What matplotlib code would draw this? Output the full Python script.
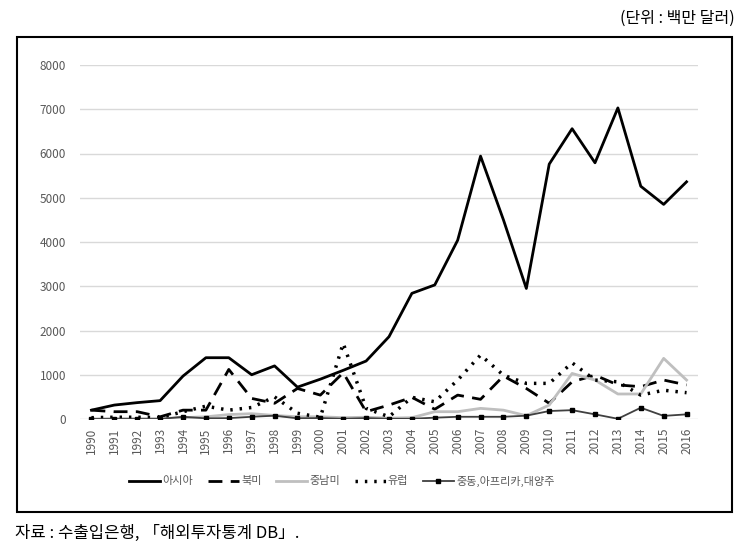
import matplotlib.pyplot as plt
import numpy as np
from matplotlib.patches import Rectangle

plt.rcParams['font.family'] = ['Noto Sans CJK KR', 'DejaVu Sans']

# 데이터 (단위: 백만 달러)
years = [str(y) for y in range(1990, 2017)]
asia = [200, 315, 370, 415, 970, 1385, 1385, 1000, 1200, 720, 900, 1100, 1310, 1860,
        2840, 3030, 4040, 5940, 4500, 2950, 5760, 6560, 5790, 7030, 5260, 4850, 5360]
north_america = [200, 165, 165, 50, 200, 200, 1120, 465, 355, 690, 540, 1045, 165, 315,
                 490, 220, 540, 445, 970, 690, 355, 840, 990, 770, 730, 880, 770]
latin_america = [0, 10, 10, 10, 30, 50, 100, 120, 80, 50, 50, 30, 40, 20,
                 30, 165, 165, 240, 200, 75, 315, 1030, 880, 565, 565, 1370, 880]
europe = [30, 40, 40, 30, 165, 290, 200, 260, 500, 130, 40, 1710, 240, 50,
          490, 390, 880, 1445, 990, 805, 805, 1270, 880, 840, 540, 650, 595]
mideast = [0, 0, 0, 0, 50, 15, 20, 50, 75, 15, 20, 5, 20, 5,
           5, 30, 50, 50, 50, 75, 180, 200, 105, 5, 255, 70, 105]

fig = plt.figure(figsize=(7.52, 5.53), dpi=100)
ax = fig.add_axes([80 / 752, 134 / 553, 618 / 752, 354 / 553])

x = np.arange(len(years))
ax.plot(x, asia, color='black', lw=2, label='아시아')
ax.plot(x, north_america, color='black', lw=2, ls=(0, (5, 3)), label='북미')
ax.plot(x, latin_america, color='#bfbfbf', lw=2, label='중남미')
ax.plot(x, europe, color='black', lw=2.5, ls=(0, (0.7, 2.0)), dash_capstyle='butt', label='유럽')
ax.plot(x, mideast, color='#404040', lw=1.3, marker='s', markersize=3.5,
        markerfacecolor='black', markeredgecolor='black', label='중동,아프리카,대양주')

ax.set_xlim(-0.5, len(years) - 0.5)
ax.set_ylim(0, 8000)
ax.set_yticks(range(0, 8001, 1000))
ax.set_xticks(x)
ax.set_xticklabels(years, rotation=90)
ax.tick_params(axis='both', length=0, labelsize=8.5, labelcolor='#595959')
ax.tick_params(axis='y', pad=10)
ax.tick_params(axis='x', pad=6)
ax.grid(axis='y', color='#d9d9d9', lw=1)
ax.set_axisbelow(True)
for s in ax.spines.values():
    s.set_visible(False)

leg = fig.legend(loc='center', bbox_to_anchor=(342 / 752, 1 - 481 / 553), ncol=5,
                 frameon=False, fontsize=8, handlelength=2.8, handletextpad=0.2,
                 columnspacing=1.3)
for t in leg.get_texts():
    t.set_color('#595959')

# 바깥 테두리
fig.patches.append(Rectangle((17 / 752, 1 - 512 / 553), 715 / 752, 475 / 553,
                             transform=fig.transFigure, fill=False, lw=1.5,
                             edgecolor='black'))

fig.text(735 / 752, 1 - 18 / 553, '(단위 : 백만 달러)', ha='right', va='center', fontsize=11.5)
fig.text(15 / 752, 1 - 533 / 553, '자료 : 수출입은행, 「해외투자통계 DB」.', ha='left',
         va='center', fontsize=12)

fig.savefig('out.png', dpi=100)
